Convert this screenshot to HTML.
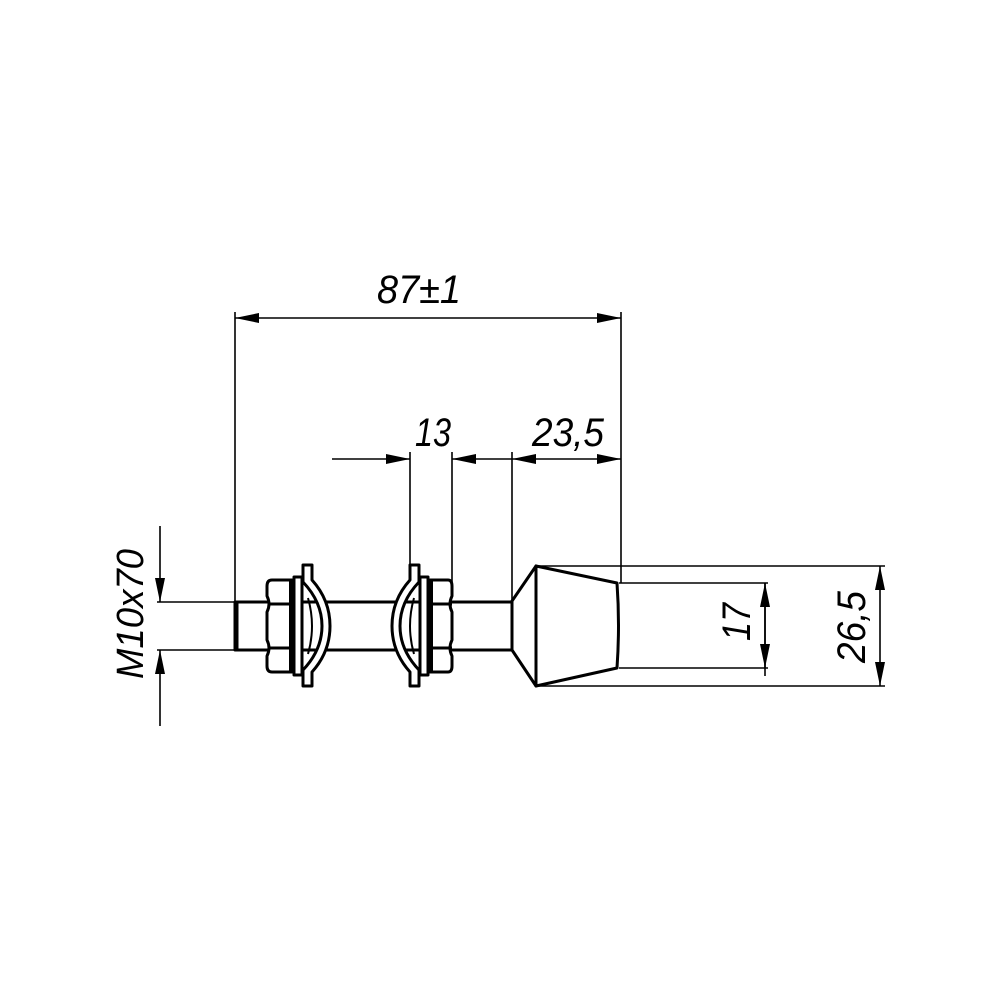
<!DOCTYPE html>
<html><head><style>body{margin:0;background:#fff}svg{display:block}text{font-family:"Liberation Sans",sans-serif;font-style:italic;fill:#000}</style></head>
<body>
<svg width="1000" height="1000" viewBox="0 0 1000 1000" xmlns="http://www.w3.org/2000/svg">
<defs>
<marker id="a" viewBox="0 0 24 10" refX="24" refY="5" markerWidth="24" markerHeight="10" markerUnits="userSpaceOnUse" orient="auto-start-reverse"><path d="M0,0L24,5L0,10z" fill="#000"/></marker>
</defs>
<g stroke="#000" fill="none" stroke-width="1.6">
<!-- 87 dim -->
<line x1="235" y1="312" x2="235" y2="602"/>
<line x1="621" y1="312" x2="621" y2="583"/>
<line x1="235" y1="318" x2="621" y2="318" marker-start="url(#a)" marker-end="url(#a)"/>
<!-- 13 / 23.5 -->
<line x1="410" y1="452" x2="410" y2="572"/>
<line x1="452" y1="452" x2="452" y2="582"/>
<line x1="512" y1="452" x2="512" y2="602"/>
<line x1="332" y1="459" x2="410" y2="459" marker-end="url(#a)"/>
<line x1="512" y1="459" x2="452" y2="459" marker-end="url(#a)"/>
<line x1="512" y1="459" x2="621" y2="459" marker-start="url(#a)" marker-end="url(#a)"/>
<!-- M10 -->
<line x1="157" y1="602" x2="235" y2="602"/>
<line x1="157" y1="650" x2="235" y2="650"/>
<line x1="160" y1="526" x2="160" y2="602" marker-end="url(#a)"/>
<line x1="160" y1="726" x2="160" y2="650" marker-end="url(#a)"/>
<!-- head dims -->
<line x1="536" y1="566" x2="885" y2="566"/>
<line x1="536" y1="686" x2="885" y2="686"/>
<line x1="619" y1="583" x2="768" y2="583"/>
<line x1="619" y1="668" x2="768" y2="668"/>
<line x1="765" y1="583" x2="765" y2="676" marker-start="url(#a)"/>
<line x1="765" y1="583" x2="765" y2="668" marker-end="url(#a)"/>
<line x1="880" y1="566" x2="880" y2="686" marker-start="url(#a)" marker-end="url(#a)"/>
</g>
<g stroke="#000" fill="#fff" stroke-width="3" stroke-linejoin="round">
<!-- shaft -->
<rect x="235" y="602" width="277" height="48"/>
<line x1="236" y1="602" x2="236" y2="650" stroke-width="5"/>
<!-- head -->
<path d="M512,601 L536,566 L536,686 L512,650 Z"/>
<path d="M536,566 L617,583 Q620,625 617,668 L536,686 Z"/>
<!-- nut 1 -->
<path d="M272,580 H292 V672 H272 Q267,672 267,666 V656 Q271,648 267,640 V612 Q271,604 267,596 V586 Q267,580 272,580 Z"/>
<line x1="268" y1="604" x2="292" y2="604"/><line x1="268" y1="648" x2="292" y2="648"/>
<line x1="292" y1="580" x2="292" y2="672" stroke-width="6"/>
<rect x="294" y="577" width="8" height="98"/>
<path d="M303,565 H312 V580 Q330,600 330,626 Q330,652 312,672 V686 H303 V670 Q322,650 322,626 Q322,602 303,582 Z"/>
<path d="M308,598 Q316,626 308,654" fill="none" stroke-width="2"/>
<!-- nut 2 -->
<path d="M410,565 H419 V582 Q400,602 400,626 Q400,650 419,670 V686 H410 V672 Q392,652 392,626 Q392,600 410,580 Z"/>
<path d="M414,598 Q406,626 414,654" fill="none" stroke-width="2"/>
<rect x="420" y="577" width="8" height="98"/>
<path d="M430,580 H448 Q452,580 452,586 V596 Q448,604 452,612 V640 Q448,648 452,656 V666 Q452,672 448,672 H430 Z"/>
<line x1="430" y1="580" x2="430" y2="672" stroke-width="6"/>
<line x1="430" y1="604" x2="452" y2="604"/><line x1="430" y1="648" x2="452" y2="648"/>
</g>
<text x="419" y="303" font-size="40" text-anchor="middle" textLength="84" lengthAdjust="spacingAndGlyphs">87±1</text>
<text x="433" y="446" font-size="40" text-anchor="middle" textLength="36" lengthAdjust="spacingAndGlyphs">13</text>
<text x="568" y="446" font-size="40" text-anchor="middle" textLength="72" lengthAdjust="spacingAndGlyphs">23,5</text>
<text transform="translate(750,622) rotate(-90)" font-size="40" text-anchor="middle" textLength="38" lengthAdjust="spacingAndGlyphs">17</text>
<text transform="translate(865,627) rotate(-90)" font-size="40" text-anchor="middle" textLength="72" lengthAdjust="spacingAndGlyphs">26,5</text>
<text transform="translate(143,614) rotate(-90)" font-size="38" text-anchor="middle" textLength="130" lengthAdjust="spacingAndGlyphs">M10x70</text>
</svg>
</body></html>
